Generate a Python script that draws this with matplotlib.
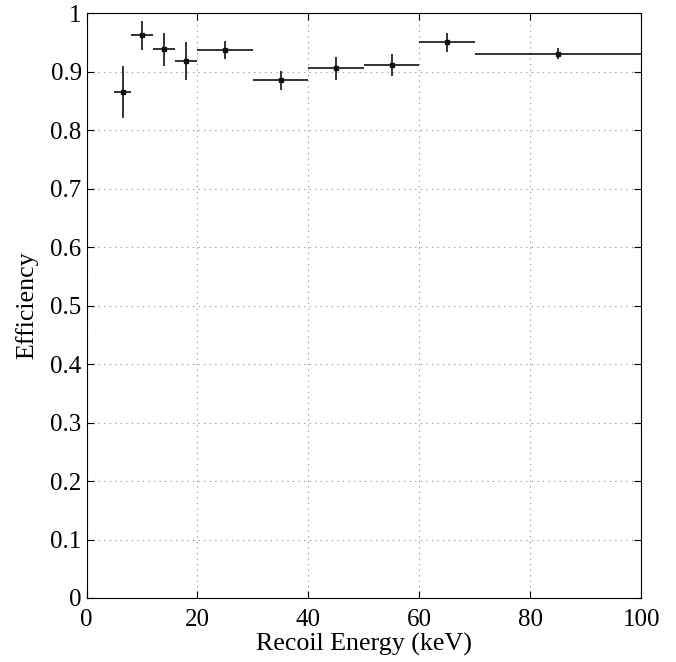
import numpy as np
import matplotlib.pyplot as plt

# ==========================
# DADOS
# ==========================

bin_lo = [5, 8, 12, 16, 20, 30, 40, 50, 60, 70]
bin_hi = [8, 12, 16, 20, 30, 40, 50, 60, 70, 100]
energia = [6.5, 10, 14, 18, 25, 35, 45, 55, 65, 85]
eficiencia = [0.865, 0.962, 0.938, 0.918, 0.937, 0.885, 0.906, 0.912, 0.950, 0.931]
erro = [0.044, 0.025, 0.028, 0.032, 0.016, 0.017, 0.020, 0.019, 0.016, 0.010]

x_ticks = [0, 20, 40, 60, 80, 100]
y_ticks = [0, 0.1, 0.2, 0.3, 0.4, 0.5, 0.6, 0.7, 0.8, 0.9, 1]
y_labels = ["0", "0.1", "0.2", "0.3", "0.4", "0.5", "0.6", "0.7", "0.8", "0.9", "1"]

# ==========================
# GRÁFICO
# ==========================

plt.rcParams["font.family"] = ["Liberation Serif", "DejaVu Serif"]

fig = plt.figure(figsize=(6.76, 6.62), dpi=100)
ax = fig.add_axes([0.128, 0.0967, 0.8207, 0.8833])

x = np.array(energia)
xerr = [x - np.array(bin_lo), np.array(bin_hi) - x]

ax.errorbar(
    x, eficiencia,
    xerr=xerr, yerr=erro,
    fmt="s", markersize=2.5, color="#111111",
    ecolor="#111111", elinewidth=1.2, capsize=0
)

ax.set_xlim(0, 100)
ax.set_ylim(0, 1)
ax.set_xticks(x_ticks)
ax.set_yticks(y_ticks)
ax.set_yticklabels(y_labels)

ax.grid(True, linestyle=(0, (1, 4)), color="#888888", linewidth=0.8)
ax.tick_params(direction="in", top=True, right=True, length=5,
               labelsize=18, width=0.8)
ax.tick_params(axis="x", pad=8)
for s in ax.spines.values():
    s.set_linewidth(0.8)

ax.set_xlabel("Recoil Energy (keV)", fontsize=18.7, labelpad=1)
ax.set_ylabel("Efficiency", fontsize=18.7, labelpad=9)

plt.savefig("out.png", dpi=100)
